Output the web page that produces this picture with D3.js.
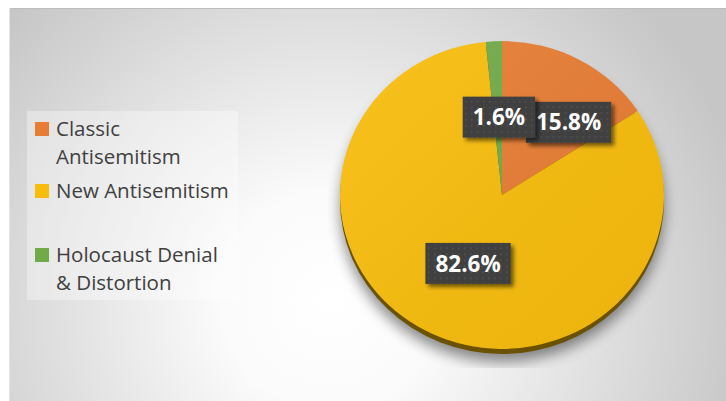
<!DOCTYPE html>
<html><head><meta charset="utf-8">
<script src="https://cdn.jsdelivr.net/npm/d3@7"></script>
<style>html,body{margin:0;padding:0;background:#fff;}svg{display:block;}</style>
</head><body>
<svg id="c" width="726" height="401"></svg>
<script>
// ---- data ----
const categories = ["Classic Antisemitism", "New Antisemitism", "Holocaust Denial & Distortion"];
const legendLines = [["Classic", "Antisemitism"], ["New Antisemitism"], ["Holocaust Denial", "& Distortion"]];
const values = [15.8, 82.6, 1.6];
const valueLabels = ["15.8%", "82.6%", "1.6%"];
const colors = ["#E77D34", "#F8BD0C", "#70AB48"];
// label offsets from slice centroid (styling/positioning)
const labelShift = [[28, -5], [1, -1], [1, -1]];

const svg = d3.select("#c");
const defs = svg.append("defs");
const FONT = "'Open Sans', 'Noto Sans', sans-serif";

// background gradient
const bg = defs.append("radialGradient").attr("id", "bg")
  .attr("gradientUnits", "userSpaceOnUse").attr("cx", 330).attr("cy", 300).attr("r", 430);
bg.append("stop").attr("offset", "0").attr("stop-color", "#ffffff");
bg.append("stop").attr("offset", "0.25").attr("stop-color", "#fbfbfb");
bg.append("stop").attr("offset", "1").attr("stop-color", "#c6c6c6");

svg.append("rect").attr("x", 10).attr("y", 8).attr("width", 716).attr("height", 393).attr("fill", "url(#bg)");
svg.append("line").attr("x1", 9).attr("x2", 726).attr("y1", 8.5).attr("y2", 8.5).attr("stroke", "#bdbdbd");
svg.append("line").attr("x1", 9.5).attr("x2", 9.5).attr("y1", 8).attr("y2", 401).attr("stroke", "#e4e4e4");

// filters
const sh = defs.append("filter").attr("id", "pieShadow").attr("x", "-20%").attr("y", "-20%").attr("width", "140%").attr("height", "140%");
sh.append("feGaussianBlur").attr("in", "SourceAlpha").attr("stdDeviation", 7);
sh.append("feOffset").attr("dx", 0).attr("dy", 8).attr("result", "b");
sh.append("feComponentTransfer").append("feFuncA").attr("type", "linear").attr("slope", 0.45);

const lsh = defs.append("filter").attr("id", "lblShadow").attr("x", "-20%").attr("y", "-30%").attr("width", "150%").attr("height", "170%");
lsh.append("feGaussianBlur").attr("in", "SourceAlpha").attr("stdDeviation", 2);
lsh.append("feOffset").attr("dx", 3).attr("dy", 3).attr("result", "o");
lsh.append("feComponentTransfer").attr("result", "s").append("feFuncA").attr("type", "linear").attr("slope", 0.55);
const m = lsh.append("feMerge");
m.append("feMergeNode").attr("in", "s");
m.append("feMergeNode").attr("in", "SourceGraphic");

const pat = defs.append("pattern").attr("id", "dots").attr("patternUnits", "userSpaceOnUse")
  .attr("width", 6).attr("height", 6);
pat.append("rect").attr("width", 6).attr("height", 6).attr("fill", "#3f3f3f");
pat.append("rect").attr("x", 2).attr("y", 2).attr("width", 1.5).attr("height", 1.5).attr("fill", "#575757");

const light = defs.append("linearGradient").attr("id", "light").attr("x1", "0").attr("y1", "0").attr("x2", "1").attr("y2", "1");
light.append("stop").attr("offset", "0").attr("stop-color", "#fff").attr("stop-opacity", 0.07);
light.append("stop").attr("offset", "1").attr("stop-color", "#000").attr("stop-opacity", 0.05);

defs.append("clipPath").attr("id", "plotClip").append("rect")
  .attr("x", 328).attr("y", 30).attr("width", 350).attr("height", 338);

// ---- pie ----
const cx = 502, cy = 195, R = 162, sy = 0.95, depth = 5;
const pie = d3.pie().sort(null).value(d => d)(values);
const arc = d3.arc().innerRadius(0).outerRadius(R);

const pieG = svg.append("g");
pieG.append("g").attr("clip-path", "url(#plotClip)")
  .append("ellipse").attr("cx", cx).attr("cy", cy + depth).attr("rx", R).attr("ry", R * sy)
  .attr("fill", "#000").attr("filter", "url(#pieShadow)");
pieG.append("ellipse").attr("cx", cx).attr("cy", cy + depth).attr("rx", R).attr("ry", R * sy)
  .attr("fill", "#6b5200");
const pieTop = pieG.append("g").attr("transform", `translate(${cx},${cy}) scale(1,${sy})`);
pieTop.selectAll("path.slice").data(pie).join("path").attr("class", "slice")
  .attr("d", arc).attr("fill", (d, i) => colors[i]);
pieTop.append("circle").attr("r", R).attr("fill", "url(#light)");

// ---- labels ----
const lblArc = d3.arc().innerRadius(R * 0.5).outerRadius(R * 0.5);
const lg = svg.append("g");
[0, 1, 2].forEach(i => {
  const d = pie[i];
  const c = lblArc.centroid(d);
  const x = cx + c[0] + labelShift[i][0];
  const y = cy + c[1] * sy + labelShift[i][1];
  const g = lg.append("g").attr("transform", `translate(${x},${y})`);
  const t = g.append("text").text(valueLabels[i])
    .attr("font-family", FONT).attr("font-weight", 700)
    .attr("font-size", 22.5).attr("fill", "#fff").attr("text-anchor", "middle").attr("dy", "0.36em");
  const w = t.node().getComputedTextLength();
  const bw = w + 20, bh = 41;
  g.insert("rect", "text").attr("x", -bw / 2).attr("y", -bh / 2).attr("width", bw).attr("height", bh)
    .attr("fill", "url(#dots)").attr("filter", "url(#lblShadow)");
});

// ---- legend ----
svg.append("rect").attr("x", 27).attr("y", 111).attr("width", 211).attr("height", 189)
  .attr("fill", "#ffffff").attr("fill-opacity", 0.35);
const itemTop = [122, 184, 248];
const lineH = 28;
const leg = svg.append("g");
legendLines.forEach((lines, i) => {
  leg.append("rect").attr("x", 35).attr("y", itemTop[i]).attr("width", 14).attr("height", 14).attr("fill", colors[i]);
  lines.forEach((ln, j) => {
    leg.append("text").attr("x", 56).attr("y", itemTop[i] + 13.5 + j * lineH).text(ln)
      .attr("font-family", FONT).attr("font-size", 20.5).attr("fill", "#404040");
  });
});
</script>
</body></html>
